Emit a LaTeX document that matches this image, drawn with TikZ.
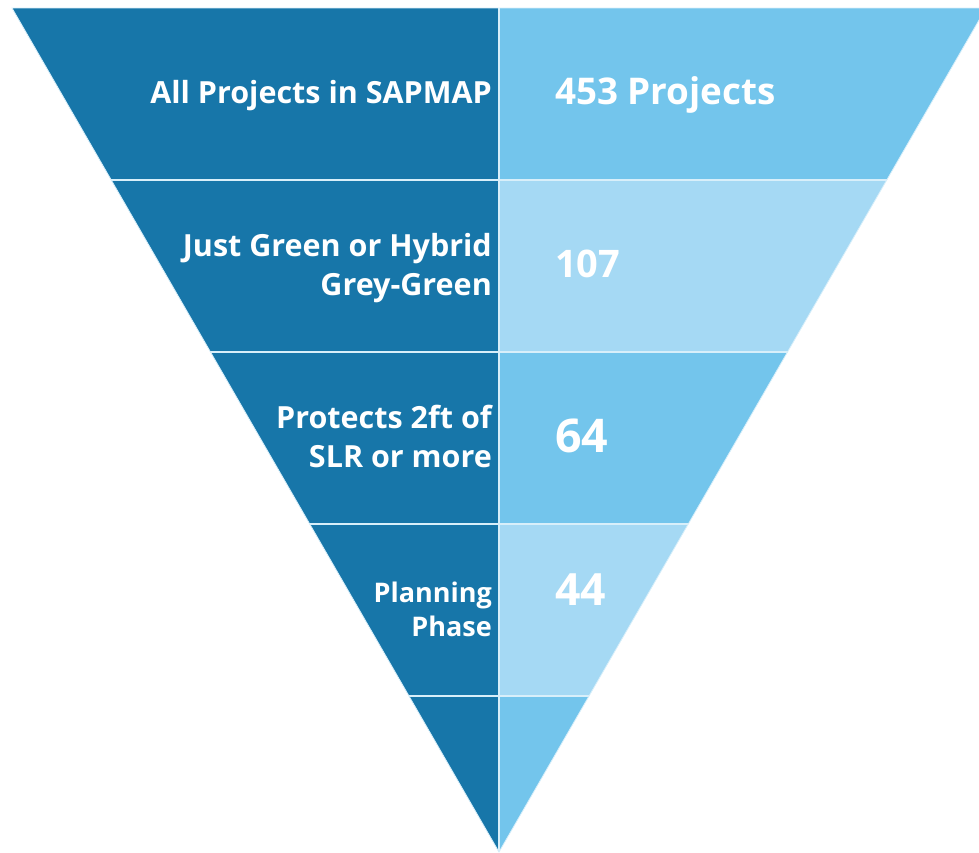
\documentclass[tikz,border=0pt]{standalone}
\usepackage{fontspec}
\setmainfont{Open Sans}
\definecolor{darkblue}{HTML}{1776A9}
\definecolor{midblue}{HTML}{73C5EC}
\definecolor{paleblue}{HTML}{A5D9F4}
\definecolor{sepline}{HTML}{D8EFFA}
\tikzset{
  lefttext/.style={text=white, font=\bfseries\fontsize{30.5}{39}\selectfont, align=right, inner sep=0pt, anchor=base east},
  smalltext/.style={text=white, font=\bfseries\fontsize{27}{34}\selectfont, align=right, inner sep=0pt, anchor=base east},
  righttext/.style={text=white, font=\bfseries\fontsize{#1}{#1}\selectfont, inner sep=0pt, anchor=base west},
  separator/.style={draw=sepline, line width=1.8pt}
}
\begin{document}
\begin{tikzpicture}[x=1pt,y=-1pt]
\useasboundingbox (0,0) rectangle (979,852);
\begin{scope}
  \clip (0,0) rectangle (979,852);
  \begin{scope}
    \clip (12,8) -- (986,8) -- (499,852) -- cycle;
    \fill[darkblue] (0,8) rectangle (499,852);
    \fill[midblue] (499,8) rectangle (990,180);
    \fill[paleblue] (499,180) rectangle (990,352);
    \fill[midblue] (499,352) rectangle (990,524);
    \fill[paleblue] (499,524) rectangle (990,696);
    \fill[midblue] (499,696) rectangle (990,852);
    \draw[separator] (0,180) -- (990,180);
    \draw[separator] (0,352) -- (990,352);
    \draw[separator] (0,524) -- (990,524);
    \draw[separator] (0,696) -- (990,696);
    \draw[separator] (499,0) -- (499,852);
  \end{scope}
  \draw[sepline, line width=0.8pt] (12,8) -- (986,8) -- (499,852) -- cycle;
\end{scope}
\node[lefttext] (l1) at (492,103) {All Projects in SAPMAP};
\node[lefttext] (l2) at (492,295) {Just Green or Hybrid\\Grey-Green};
\node[lefttext] (l3) at (492,467) {Protects 2ft of\\SLR or more};
\node[smalltext] (l4) at (492,636) {Planning\\Phase};
\node[righttext=36.8] (r1) at (555,104) {453 Projects};
\node[righttext=38] (r2) at (555,277) {107};
\node[righttext=46.5] (r3) at (555,452) {64};
\node[righttext=44.5] (r4) at (555,605) {44};
\end{tikzpicture}
\end{document}
